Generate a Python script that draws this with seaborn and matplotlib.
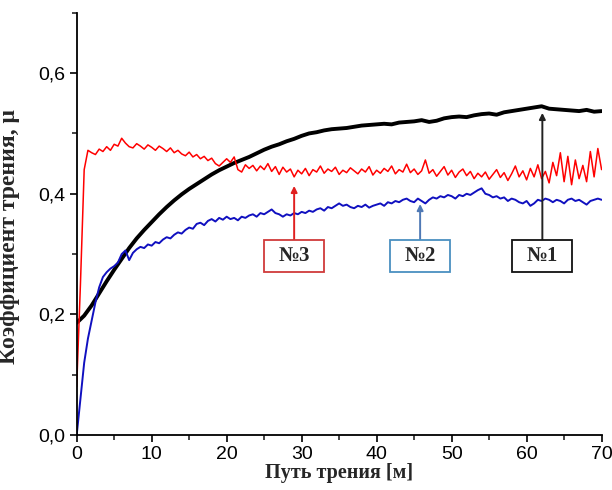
import numpy as np
import pandas as pd
import seaborn as sns
import matplotlib.pyplot as plt
from matplotlib.patches import Rectangle
from matplotlib.ticker import MultipleLocator, FuncFormatter

# =============================================================================
# DATA — values
# =============================================================================
# sample No.1 (black), every 1 m
x_black = np.arange(0, 71, 1.0)
mu_black = [
    0.186, 0.198, 0.215, 0.235, 0.255, 0.274, 0.292, 0.310, 0.326, 0.340,
    0.353, 0.366, 0.378, 0.389, 0.399, 0.408, 0.416, 0.424, 0.432, 0.439,
    0.445, 0.451, 0.456, 0.461, 0.467, 0.473, 0.478, 0.482, 0.487, 0.491,
    0.496, 0.500, 0.502, 0.505, 0.507, 0.508, 0.509, 0.511, 0.513, 0.514,
    0.515, 0.516, 0.515, 0.518, 0.519, 0.520, 0.522, 0.519, 0.521, 0.525,
    0.527, 0.528, 0.527, 0.530, 0.532, 0.533, 0.531, 0.535, 0.537, 0.539,
    0.541, 0.543, 0.545, 0.541, 0.540, 0.539, 0.538, 0.537, 0.539, 0.536,
    0.537,
]

# sample No.2 (blue), every 0.5 m
x_half = np.arange(0, 70.01, 0.5)
mu_blue = [
    0.000, 0.060, 0.120, 0.160, 0.190, 0.220, 0.245, 0.262, 0.270, 0.276,
    0.280, 0.286, 0.300, 0.306, 0.290, 0.302, 0.308, 0.312, 0.310, 0.316,
    0.314, 0.320, 0.318, 0.324, 0.328, 0.326, 0.332, 0.336, 0.334, 0.340,
    0.344, 0.342, 0.350, 0.352, 0.348, 0.355, 0.358, 0.354, 0.360, 0.357,
    0.362, 0.358, 0.360, 0.356, 0.362, 0.360, 0.364, 0.366, 0.362, 0.368,
    0.366, 0.370, 0.374, 0.368, 0.366, 0.362, 0.366, 0.364, 0.368, 0.366,
    0.370, 0.368, 0.372, 0.370, 0.374, 0.376, 0.372, 0.378, 0.376, 0.380,
    0.384, 0.380, 0.382, 0.378, 0.376, 0.380, 0.378, 0.382, 0.377, 0.380,
    0.382, 0.384, 0.380, 0.386, 0.384, 0.388, 0.386, 0.390, 0.392, 0.388,
    0.386, 0.392, 0.388, 0.384, 0.390, 0.394, 0.392, 0.396, 0.394, 0.398,
    0.396, 0.392, 0.398, 0.396, 0.400, 0.398, 0.402, 0.406, 0.409, 0.400,
    0.398, 0.394, 0.396, 0.392, 0.394, 0.388, 0.392, 0.390, 0.386, 0.384,
    0.388, 0.380, 0.384, 0.390, 0.388, 0.392, 0.390, 0.386, 0.390, 0.388,
    0.384, 0.390, 0.392, 0.388, 0.390, 0.386, 0.382, 0.388, 0.390, 0.392,
    0.390,
]

# sample No.3 (red), every 0.5 m
mu_red = [
    0.080, 0.250, 0.440, 0.472, 0.468, 0.465, 0.474, 0.470, 0.478, 0.472,
    0.482, 0.479, 0.492, 0.484, 0.478, 0.476, 0.483, 0.479, 0.474, 0.481,
    0.477, 0.472, 0.479, 0.475, 0.470, 0.476, 0.468, 0.472, 0.466, 0.463,
    0.469, 0.461, 0.465, 0.458, 0.462, 0.455, 0.459, 0.450, 0.446, 0.452,
    0.458, 0.452, 0.461, 0.440, 0.436, 0.448, 0.442, 0.447, 0.438, 0.446,
    0.440, 0.450, 0.437, 0.445, 0.432, 0.444, 0.436, 0.441, 0.428, 0.439,
    0.433, 0.442, 0.430, 0.440, 0.436, 0.446, 0.434, 0.441, 0.437, 0.444,
    0.432, 0.439, 0.435, 0.443, 0.438, 0.433, 0.441, 0.436, 0.445, 0.431,
    0.439, 0.434, 0.442, 0.437, 0.446, 0.433, 0.440, 0.436, 0.449, 0.435,
    0.441, 0.432, 0.438, 0.456, 0.434, 0.440, 0.429, 0.437, 0.445, 0.431,
    0.439, 0.427, 0.436, 0.441, 0.430, 0.437, 0.425, 0.434, 0.428, 0.436,
    0.424, 0.432, 0.440, 0.427, 0.435, 0.422, 0.433, 0.446, 0.428, 0.438,
    0.423, 0.442, 0.428, 0.448, 0.425, 0.437, 0.418, 0.452, 0.430, 0.468,
    0.420, 0.462, 0.415, 0.456, 0.425, 0.447, 0.420, 0.470, 0.428, 0.475,
    0.440,
]

# annotation boxes: label, x of box centre / arrow, arrow tip (mu)
labels = ['№3', '№2', '№1']
label_x = [29.0, 45.8, 62.1]
label_tip = [0.413, 0.383, 0.534]
# =============================================================================

sns.set_style('ticks')
plt.rcParams['font.family'] = ['Liberation Sans', 'DejaVu Sans']
serif = ['Liberation Serif', 'DejaVu Serif']

fig = plt.figure(figsize=(6.12, 4.9), dpi=100)
ax = fig.add_axes([0.1253, 0.112, 0.8577, 0.862])

sns.lineplot(x=x_black, y=mu_black, color='black', lw=2.8, ax=ax,
             estimator=None, sort=False)
sns.lineplot(x=x_half, y=mu_blue, color='#1010c0', lw=1.4, ax=ax,
             estimator=None, sort=False)
sns.lineplot(x=x_half, y=mu_red, color='#ff0000', lw=1.1, ax=ax,
             estimator=None, sort=False)

box_edge = ['#d03a3a', '#4a90c0', '#111111']
arrow_col = ['#e02020', '#4f79b5', '#222222']
box_w, box_bot, box_top = 8.0, 0.271, 0.324
for lab, bx, tip, ec, ac in zip(labels, label_x, label_tip, box_edge, arrow_col):
    ax.add_patch(Rectangle((bx - box_w / 2, box_bot), box_w, box_top - box_bot,
                           facecolor='white', edgecolor=ec, lw=1.3, zorder=5))
    ax.text(bx, (box_bot + box_top) / 2, lab, ha='center', va='center',
            family=serif, fontweight='bold', fontsize=15, zorder=6)
    ax.annotate('', xy=(bx, tip), xytext=(bx, box_top),
                arrowprops=dict(arrowstyle='-|>', color=ac, lw=1.4,
                                mutation_scale=9, shrinkA=0, shrinkB=0),
                zorder=4)

ax.set_xlim(0, 70)
ax.set_ylim(0, 0.7)
ax.xaxis.set_major_locator(MultipleLocator(10))
ax.xaxis.set_minor_locator(MultipleLocator(5))
ax.yaxis.set_major_locator(MultipleLocator(0.2))
ax.yaxis.set_minor_locator(MultipleLocator(0.1))
ax.yaxis.set_major_formatter(FuncFormatter(lambda v, p: f"{v:.1f}".replace('.', ',')))
ax.tick_params(which='major', direction='out', length=5, width=1.2,
               labelsize=14, pad=3, colors='black')
ax.tick_params(which='minor', direction='out', length=3.5, width=1.2)
for s in ['left', 'bottom']:
    ax.spines[s].set_linewidth(1.3)
    ax.spines[s].set_color('black')
sns.despine(ax=ax)

ax.set_xlabel('Путь трения [м]', family=serif, fontweight='bold',
              fontsize=14.5, labelpad=0)
ax.set_ylabel('Коэффициент трения, μ', family=serif, fontweight='bold',
              fontsize=17)
ax.yaxis.set_label_coords(-0.108, 0.47)

fig.savefig('out.png', dpi=100)
